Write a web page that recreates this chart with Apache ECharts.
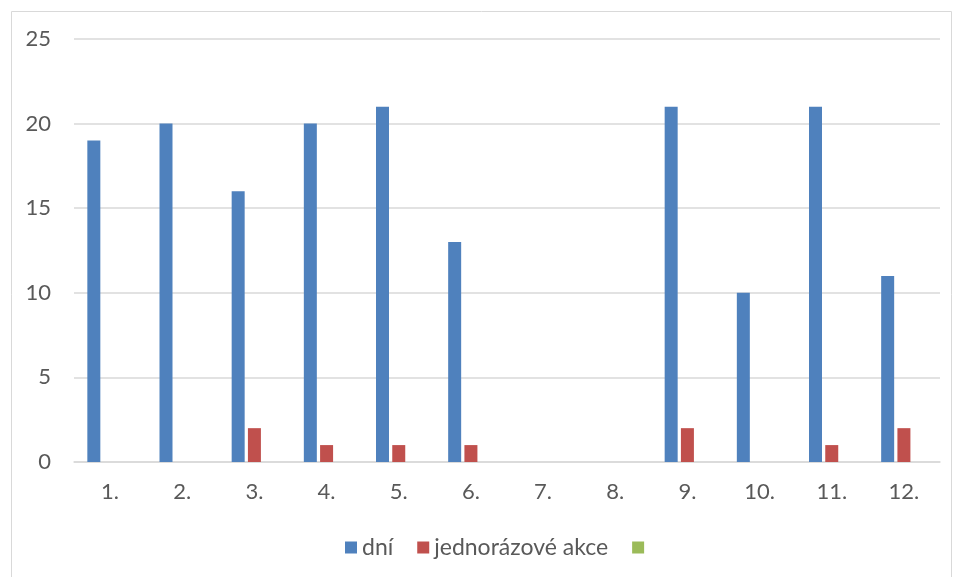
<!DOCTYPE html>
<html>
<head>
<meta charset="utf-8">
<script src="https://cdn.jsdelivr.net/npm/echarts@6/dist/echarts.min.js"></script>
<style>html,body{margin:0;padding:0;background:#fff}#c{width:958px;height:577px}</style>
</head>
<body>
<div id="c"></div>
<script>
const categories = ['1.', '2.', '3.', '4.', '5.', '6.', '7.', '8.', '9.', '10.', '11.', '12.'];
const seriesNames = ['dní', 'jednorázové akce', ' '];
const dni = [19, 20, 16, 20, 21, 13, 0, 0, 21, 10, 21, 11];
const akce = [0, 0, 2, 1, 1, 1, 0, 0, 2, 0, 1, 2];
const third = [0, 0, 0, 0, 0, 0, 0, 0, 0, 0, 0, 0];
const yTicks = [0, 5, 10, 15, 20, 25];

const colors = ['#4F81BD', '#C0504D', '#9BBB59'];
const font = 'Lato, "Open Sans", sans-serif';
const chart = echarts.init(document.getElementById('c'), null, {renderer: 'canvas'});
const values = [dni, akce, third];
chart.setOption({
  animation: false,
  color: colors,
  graphic: [{
    type: 'rect', left: 9, top: 9, z: -1,
    shape: {width: 940, height: 570},
    style: {fill: 'none', stroke: '#D9D9D9', lineWidth: 1}
  }],
  grid: {left: 74, right: 18, top: 39, bottom: 115, containLabel: false},
  legend: {
    data: seriesNames,
    top: 536,
    left: 345,
    padding: 0,
    itemWidth: 12, itemHeight: 12, itemGap: 24,
    icon: 'rect',
    textStyle: {color: '#595959', fontSize: 23, fontFamily: font}
  },
  xAxis: {
    type: 'category',
    data: categories,
    axisLine: {lineStyle: {color: '#D9D9D9', width: 1.5}},
    axisTick: {show: false},
    axisLabel: {color: '#595959', fontSize: 22, fontFamily: font, margin: 19}
  },
  yAxis: {
    type: 'value',
    min: yTicks[0], max: yTicks[yTicks.length - 1], interval: 5,
    axisLine: {show: false},
    axisTick: {show: false},
    splitLine: {lineStyle: {color: '#D9D9D9', width: 1.5}},
    axisLabel: {color: '#595959', fontSize: 22, fontFamily: font, margin: 23}
  },
  series: seriesNames.map((n, i) => ({
    name: n,
    type: 'bar',
    data: values[i],
    barWidth: 13,
    barGap: '25%',
    itemStyle: {color: colors[i]}
  }))
});
</script>
</body>
</html>
